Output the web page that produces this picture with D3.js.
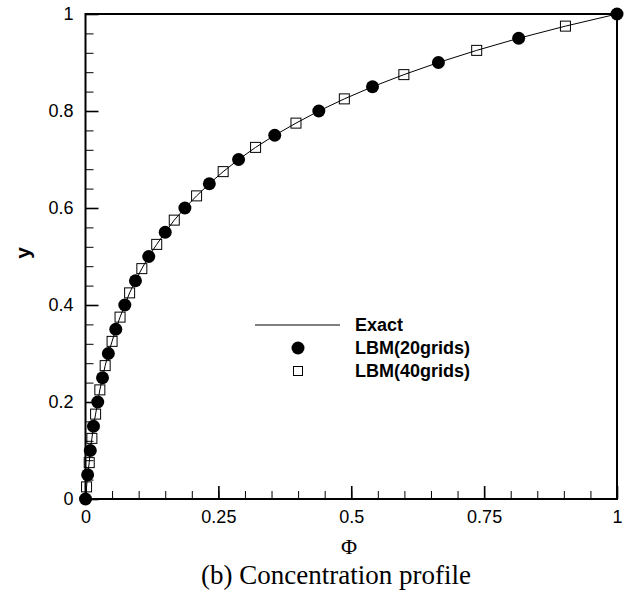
<!DOCTYPE html>
<html>
<head>
<meta charset="utf-8">
<script src="https://cdn.jsdelivr.net/npm/d3@7"></script>
<style>
  body { margin: 0; background: #fff; }
  svg { display: block; }
</style>
</head>
<body>
<script>
// LBM 20 grids (filled circles)
var y20 = [0, 0.05, 0.1, 0.15, 0.2, 0.25, 0.3, 0.35, 0.4, 0.45, 0.5,
           0.55, 0.6, 0.65, 0.7, 0.75, 0.8, 0.85, 0.9, 0.95, 1];
var phi20 = [0, 0.004, 0.009, 0.015, 0.023, 0.032, 0.043, 0.057, 0.074, 0.094, 0.119,
             0.150, 0.187, 0.233, 0.288, 0.356, 0.439, 0.540, 0.664, 0.815, 1];

// LBM 40 grids (open squares)
var y40 = [0.025, 0.075, 0.125, 0.175, 0.225, 0.275, 0.325, 0.375, 0.425, 0.475,
           0.525, 0.575, 0.625, 0.675, 0.725, 0.775, 0.825, 0.875, 0.925, 0.975];
var phi40 = [0.002, 0.007, 0.012, 0.019, 0.027, 0.037, 0.050, 0.065, 0.083, 0.106,
             0.134, 0.167, 0.209, 0.259, 0.320, 0.396, 0.487, 0.599, 0.736, 0.903];

// exact solution
var yExact = [0, 0.025, 0.05, 0.075, 0.1, 0.125, 0.15, 0.175, 0.2, 0.225, 0.25, 0.275,
              0.3, 0.325, 0.35, 0.375, 0.4, 0.425, 0.45, 0.475, 0.5, 0.525, 0.55, 0.575,
              0.6, 0.625, 0.65, 0.675, 0.7, 0.725, 0.75, 0.775, 0.8, 0.825, 0.85, 0.875,
              0.9, 0.925, 0.95, 0.975, 1];
var phiExact = [0, 0.002, 0.004, 0.007, 0.009, 0.012, 0.015, 0.019, 0.023, 0.027, 0.032, 0.037,
                0.043, 0.050, 0.057, 0.065, 0.074, 0.083, 0.094, 0.106, 0.119, 0.134, 0.150, 0.167,
                0.187, 0.209, 0.233, 0.259, 0.288, 0.320, 0.356, 0.396, 0.439, 0.487, 0.540, 0.599,
                0.664, 0.736, 0.815, 0.903, 1];

var xMajor = [0, 0.25, 0.5, 0.75, 1];
var yMajor = [0, 0.2, 0.4, 0.6, 0.8, 1];
var legendLabels = ["Exact", "LBM(20grids)", "LBM(40grids)"];

var width = 631, height = 592;
var sans = "'Liberation Sans', Arial, Helvetica, sans-serif";
var serif = "'Liberation Serif', 'Times New Roman', serif";

var svg = d3.select("body").append("svg")
    .attr("width", width)
    .attr("height", height);

var x = d3.scaleLinear().domain([0, 1]).range([85.5, 617]);
var y = d3.scaleLinear().domain([0, 1]).range([499, 14]);

var fmt = d3.format("~g");

// minor ticks
var xMinor = d3.range(0, 1.0001, 0.05).map(function(d) { return +d.toFixed(2); });
var yMinor = d3.range(0, 1.0001, 0.04).map(function(d) { return +d.toFixed(2); });

svg.append("g")
    .attr("transform", "translate(0," + y(0) + ")")
    .call(d3.axisBottom(x).tickValues(xMinor).tickSize(-8).tickFormat(""))
    .call(function(g) { g.select(".domain").remove(); g.selectAll("line").attr("stroke-width", 1); });

svg.append("g")
    .attr("transform", "translate(" + x(0) + ",0)")
    .call(d3.axisLeft(y).tickValues(yMinor).tickSize(-8).tickFormat(""))
    .call(function(g) { g.select(".domain").remove(); g.selectAll("line").attr("stroke-width", 1); });

// major ticks + labels
svg.append("g")
    .attr("transform", "translate(0," + y(0) + ")")
    .call(d3.axisBottom(x).tickValues(xMajor).tickSize(-13).tickPadding(11).tickFormat(fmt))
    .call(function(g) {
      g.select(".domain").remove();
      g.selectAll("line").attr("stroke-width", 1.6);
      g.selectAll("text").attr("font-family", sans).attr("font-size", 18).attr("fill", "#000");
    });

svg.append("g")
    .attr("transform", "translate(" + x(0) + ",0)")
    .call(d3.axisLeft(y).tickValues(yMajor).tickSize(-13).tickPadding(12).tickFormat(fmt))
    .call(function(g) {
      g.select(".domain").remove();
      g.selectAll("line").attr("stroke-width", 1.6);
      g.selectAll("text").attr("font-family", sans).attr("font-size", 18).attr("fill", "#000");
    });

// frame
svg.append("rect")
    .attr("x", x(0))
    .attr("y", y(1))
    .attr("width", x(1) - x(0))
    .attr("height", y(0) - y(1))
    .attr("fill", "none")
    .attr("stroke", "#000")
    .attr("stroke-width", 2);

// exact line
var line = d3.line()
    .x(function(d, i) { return x(phiExact[i]); })
    .y(function(d, i) { return y(yExact[i]); });

svg.append("path")
    .datum(yExact)
    .attr("fill", "none")
    .attr("stroke", "#000")
    .attr("stroke-width", 1)
    .attr("d", line);

// 40 grids squares
var sq = 10;
svg.append("g").selectAll("rect")
    .data(y40)
  .enter().append("rect")
    .attr("x", function(d, i) { return x(phi40[i]) - sq / 2; })
    .attr("y", function(d) { return y(d) - sq / 2; })
    .attr("width", sq)
    .attr("height", sq)
    .attr("fill", "none")
    .attr("stroke", "#000")
    .attr("stroke-width", 1);

// 20 grids circles
svg.append("g").selectAll("circle")
    .data(y20)
  .enter().append("circle")
    .attr("cx", function(d, i) { return x(phi20[i]); })
    .attr("cy", function(d) { return y(d); })
    .attr("r", 6.5)
    .attr("fill", "#000");

// legend
var leg = svg.append("g").attr("transform", "translate(255,325)");
leg.append("line")
    .attr("x1", 0).attr("x2", 85)
    .attr("y1", 0).attr("y2", 0)
    .attr("stroke", "#000").attr("stroke-width", 1);
leg.append("circle")
    .attr("cx", 43).attr("cy", 23).attr("r", 6.5).attr("fill", "#000");
leg.append("rect")
    .attr("x", 43 - 4.5).attr("y", 46 - 4.5)
    .attr("width", 9).attr("height", 9)
    .attr("fill", "none").attr("stroke", "#000").attr("stroke-width", 1);
leg.selectAll("text")
    .data(legendLabels)
  .enter().append("text")
    .attr("x", 100)
    .attr("y", function(d, i) { return i * 23 + 6; })
    .attr("font-family", sans)
    .attr("font-weight", "bold")
    .attr("font-size", 18)
    .text(function(d) { return d; });

// axis titles
svg.append("text")
    .attr("x", 349)
    .attr("y", 554)
    .attr("text-anchor", "middle")
    .attr("font-family", serif)
    .attr("font-size", 22)
    .text("Φ");

svg.append("text")
    .attr("transform", "translate(30,253) rotate(-90)")
    .attr("text-anchor", "middle")
    .attr("font-family", sans)
    .attr("font-weight", "bold")
    .attr("font-size", 21)
    .text("y");

svg.append("text")
    .attr("x", 336)
    .attr("y", 584)
    .attr("text-anchor", "middle")
    .attr("font-family", serif)
    .attr("font-size", 27)
    .text("(b) Concentration profile");
</script>
</body>
</html>
